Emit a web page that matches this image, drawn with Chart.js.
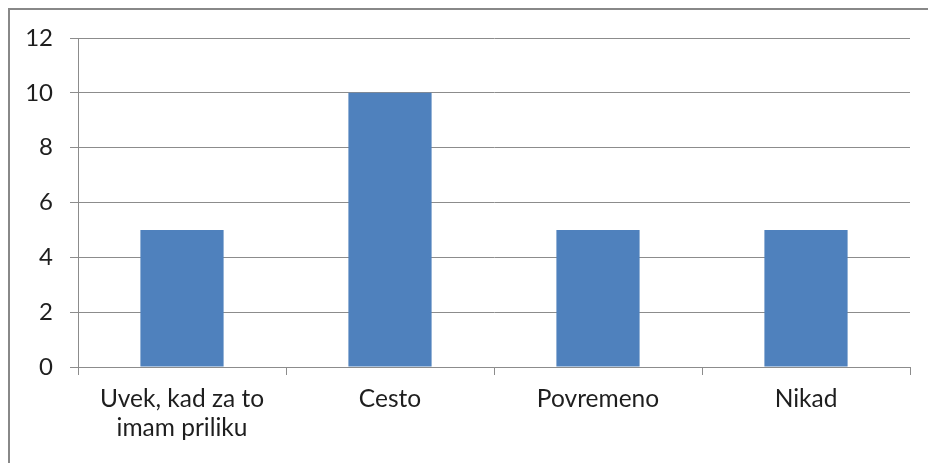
<!DOCTYPE html>
<html>
<head>
<meta charset="utf-8">
<script src="https://cdn.jsdelivr.net/npm/chart.js@4.4.1/dist/chart.umd.min.js"></script>
<style>
  html, body { margin: 0; padding: 0; background: #fff; }
  #wrap { position: relative; width: 928px; height: 463px; }
</style>
</head>
<body>
<div id="wrap"><canvas id="chart"></canvas></div>
<script>
// odgovori po kategorijama
const categories = [['Uvek, kad za to', 'imam priliku'], 'Cesto', 'Povremeno', 'Nikad'];
const counts = [5, 10, 5, 5];
const yTicks = [0, 2, 4, 6, 8, 10, 12];

const FONT = 'Lato, "Open Sans", sans-serif';
const LINE = '#8c8c8c';

// okvir oko grafikona (kao u Excelu)
const frame = {
  id: 'frame',
  beforeDraw(chart) {
    const ctx = chart.ctx;
    ctx.save();
    ctx.strokeStyle = '#888888';
    ctx.lineWidth = 2;
    ctx.strokeRect(9, 9, 1000, 1000);
    ctx.restore();
  }
};

new Chart(document.getElementById('chart'), {
  type: 'bar',
  data: {
    labels: categories,
    datasets: [{
      data: counts,
      backgroundColor: '#4F81BD',
      borderWidth: 0,
      categoryPercentage: 1,
      barPercentage: 0.4
    }]
  },
  options: {
    responsive: true,
    maintainAspectRatio: false,
    animation: false,
    layout: { padding: { top: 38, right: 18, bottom: 0, left: 0 } },
    plugins: { legend: { display: false }, tooltip: { enabled: false } },
    scales: {
      x: {
        grid: { drawOnChartArea: false, drawTicks: true, tickLength: 8, color: LINE },
        border: { color: LINE },
        ticks: { color: '#1e1e1e', padding: 10, maxRotation: 0, font: { family: FONT, size: 24.5, lineHeight: 1.17 } },
        afterFit(scale) { scale.height = 96; }
      },
      y: {
        min: 0,
        max: 12,
        afterBuildTicks(scale) { scale.ticks = yTicks.map(v => ({ value: v })); },
        grid: { color: LINE, tickLength: 8 },
        border: { color: LINE },
        ticks: { color: '#1e1e1e', padding: 17, font: { family: FONT, size: 24 } },
        afterFit(scale) { scale.width = 78; }
      }
    }
  },
  plugins: [frame]
});
</script>
</body>
</html>
